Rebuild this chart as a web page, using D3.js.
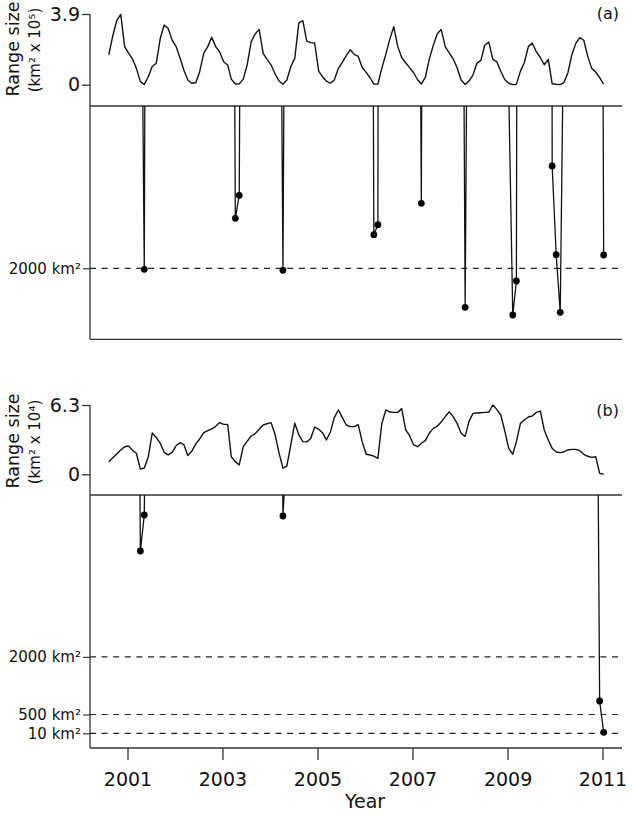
<!DOCTYPE html>
<html>
<head>
<meta charset="utf-8">
<script src="https://cdn.jsdelivr.net/npm/d3@7/dist/d3.min.js"></script>
<style>
  body { margin: 0; background: #fff; }
  text { font-family: "DejaVu Sans", sans-serif; fill: #111; }
</style>
</head>
<body>
<svg id="chart" width="633" height="816"></svg>
<script>
// monthly range size, km2, Aug 2000 .. Jan 2011
const rangeA = [
  164000, 270000, 353000, 388000, 210000, 173000, 140000, 90000, 17000, 1966,
  44000, 100000, 118000, 256000, 329000, 310000, 246000, 210000, 145000, 81000,
  26000, 8000, 11000, 72000, 173000, 210000, 261000, 210000, 182000, 127000,
  109000, 31000, 3676, 4447, 31000, 109000, 237000, 280000, 305000, 173000,
  140000, 109000, 59000, 22000, 1933, 26000, 100000, 145000, 340000, 353000,
  240000, 232000, 230000, 75000, 42000, 20000, 8000, 26000, 90000, 123000,
  160000, 193000, 167000, 156000, 96000, 68000, 37000, 3126, 3461, 90000,
  167000, 250000, 320000, 210000, 150000, 121000, 94000, 66000, 26000, 4179,
  40000, 140000, 217000, 280000, 305000, 210000, 175000, 142000, 94000, 26000,
  693, 20000, 53000, 118000, 134000, 219000, 235000, 140000, 127000, 74000,
  29000, 8000, 435, 1574, 75000, 121000, 210000, 230000, 182000, 150000,
  110000, 140000, 5429, 2456, 525, 11000, 66000, 164000, 228000, 260000,
  245000, 155000, 90000, 70000, 39000, 2446
];
const rangeB = [
  11500, 15100, 18500, 22100, 25100, 25700, 21500, 19100, 4758, 5695,
  16000, 37500, 33500, 28200, 20000, 17600, 20000, 26000, 28800, 27000,
  17000, 21000, 27600, 32100, 37900, 39700, 41200, 43600, 47000, 45400,
  45400, 16000, 11500, 8500, 25100, 30000, 34800, 37000, 40900, 44800,
  46000, 47000, 36000, 20000, 5669, 7500, 27000, 46500, 36000, 29700,
  29500, 32500, 43000, 41000, 37600, 31200, 38500, 51500, 58500, 51800,
  44800, 43300, 43300, 45100, 29700, 18200, 17600, 16500, 14500, 46000,
  58500, 56600, 56300, 56300, 59700, 40300, 35100, 26700, 25100, 28200,
  30600, 37300, 41800, 43600, 47600, 52400, 56900, 52400, 46300, 37300,
  34500, 47900, 55400, 55700, 56000, 56300, 56600, 63000, 59000, 53900,
  39700, 23600, 18200, 29700, 46300, 49400, 52100, 53000, 56300, 57500,
  40300, 31200, 23600, 20300, 19700, 20300, 22100, 22700, 22700, 21500,
  18200, 16400, 15400, 16000, 852, 36
];
const yearTicks = [2001, 2003, 2005, 2007, 2009, 2011];
const upperTicksA = [0, 3.9];
const upperTicksB = [0, 6.3];
const thresholdsA = [2000];
const thresholdsB = [2000, 500, 10];

const months = d3.timeMonth.range(new Date(2000, 7, 1), new Date(2011, 1, 1))
  .map(d => d3.timeDay.offset(d, 9));

const svg = d3.select("#chart");
const left = 90, right = 622;

const x = d3.scaleTime()
  .domain([new Date(2001, 0, 1), new Date(2011, 0, 1)])
  .range([127.5, 602.5]);

const panels = [
  { id: "a", values: rangeA, unit: 1e5, exp: "⁵", ticks: upperTicksA, thresholds: thresholdsA,
    upper: [84.7, 14], split: 106, bottom: 339.3, low: [-380, 7440], labelY: 49, tag: "(a)", tagY: 19 },
  { id: "b", values: rangeB, unit: 1e4, exp: "⁴", ticks: upperTicksB, thresholds: thresholdsB,
    upper: [474.3, 405], split: 495, bottom: 748, low: [-372, 6216], labelY: 441, tag: "(b)", tagY: 416 }
];

panels.forEach(p => {
  const g = svg.append("g");
  const yUp = d3.scaleLinear().domain([0, p.ticks[1]]).range(p.upper);
  const yLow = d3.scaleLinear().domain(p.low).range([p.bottom, p.split]);

  // frame
  g.append("line").attr("x1", left).attr("x2", left)
    .attr("y1", p.upper[1]).attr("y2", p.bottom)
    .attr("stroke", "#333").attr("stroke-width", 1.3);
  [p.split, p.bottom].forEach(yy => {
    g.append("line").attr("x1", left).attr("x2", right)
      .attr("y1", yy).attr("y2", yy)
      .attr("stroke", "#333").attr("stroke-width", 1.3);
  });

  // upper axis ticks
  const axUp = g.append("g").attr("transform", `translate(${left},0)`)
    .call(d3.axisLeft(yUp).tickValues(p.ticks).tickSize(8).tickPadding(2)
      .tickFormat(d => d === 0 ? "0" : d3.format(".1f")(d)));
  axUp.select(".domain").remove();
  axUp.selectAll("line").attr("stroke", "#333").attr("stroke-width", 1.3);
  axUp.selectAll("text").style("font-size", "19px").style("font-family", "DejaVu Sans").attr("fill", "#111");

  // lower axis ticks (thresholds)
  const axLow = g.append("g").attr("transform", `translate(${left},0)`)
    .call(d3.axisLeft(yLow).tickValues(p.thresholds).tickSize(7).tickPadding(2)
      .tickFormat(d => d + " km²"));
  axLow.select(".domain").remove();
  axLow.selectAll("line").attr("stroke", "#333").attr("stroke-width", 1.2);
  axLow.selectAll("text").style("font-size", "15px").style("font-family", "DejaVu Sans").attr("fill", "#111");

  g.selectAll(".thr").data(p.thresholds).enter().append("line")
    .attr("x1", left).attr("x2", right)
    .attr("y1", d => yLow(d)).attr("y2", d => yLow(d))
    .attr("stroke", "#222").attr("stroke-width", 1.2)
    .attr("stroke-dasharray", "6,5.6");

  // upper series
  g.append("path")
    .datum(p.values)
    .attr("fill", "none").attr("stroke", "#111").attr("stroke-width", 1.4)
    .attr("stroke-linejoin", "round")
    .attr("d", d3.line().x((d, i) => x(months[i])).y(d => yUp(d / p.unit)));

  // lower zoomed series, clipped
  svg.append("clipPath").attr("id", "clip-" + p.id)
    .append("rect").attr("x", left).attr("y", p.split)
    .attr("width", right - left).attr("height", p.bottom - p.split);
  g.append("path")
    .datum(p.values)
    .attr("clip-path", `url(#clip-${p.id})`)
    .attr("fill", "none").attr("stroke", "#111").attr("stroke-width", 1.3)
    .attr("d", d3.line().x((d, i) => x(months[i])).y(d => yLow(d)));
  g.selectAll(".dot").data(p.values.map((v, i) => [months[i], v]).filter(d => d[1] < p.low[1]))
    .enter().append("circle")
    .attr("cx", d => x(d[0])).attr("cy", d => yLow(d[1])).attr("r", 3.4)
    .attr("fill", "#000");

  // labels
  g.append("text").attr("transform", `translate(19,${p.labelY}) rotate(-90)`)
    .attr("text-anchor", "middle").style("font-size", "17.5px").text("Range size");
  g.append("text").attr("transform", `translate(40,${p.labelY + 1}) rotate(-90)`)
    .attr("text-anchor", "middle").style("font-size", "15px").text(`(km² x 10${p.exp})`);
  g.append("text").attr("x", 619).attr("y", p.tagY)
    .attr("text-anchor", "end").style("font-size", "16px").text(p.tag);
});

// x axis on the lower panel
const axX = svg.append("g").attr("transform", "translate(0,748)")
  .call(d3.axisBottom(x)
    .tickValues(yearTicks.map(y => new Date(y, 0, 1)))
    .tickSize(12).tickPadding(13)
    .tickFormat(d3.timeFormat("%Y")));
axX.select(".domain").remove();
axX.selectAll("line").attr("stroke", "#333").attr("stroke-width", 1.3);
axX.selectAll("text").style("font-size", "19px").style("font-family", "DejaVu Sans").attr("fill", "#111");

svg.append("text").attr("x", 365).attr("y", 808)
  .attr("text-anchor", "middle").style("font-size", "19px").text("Year");
</script>
</body>
</html>
